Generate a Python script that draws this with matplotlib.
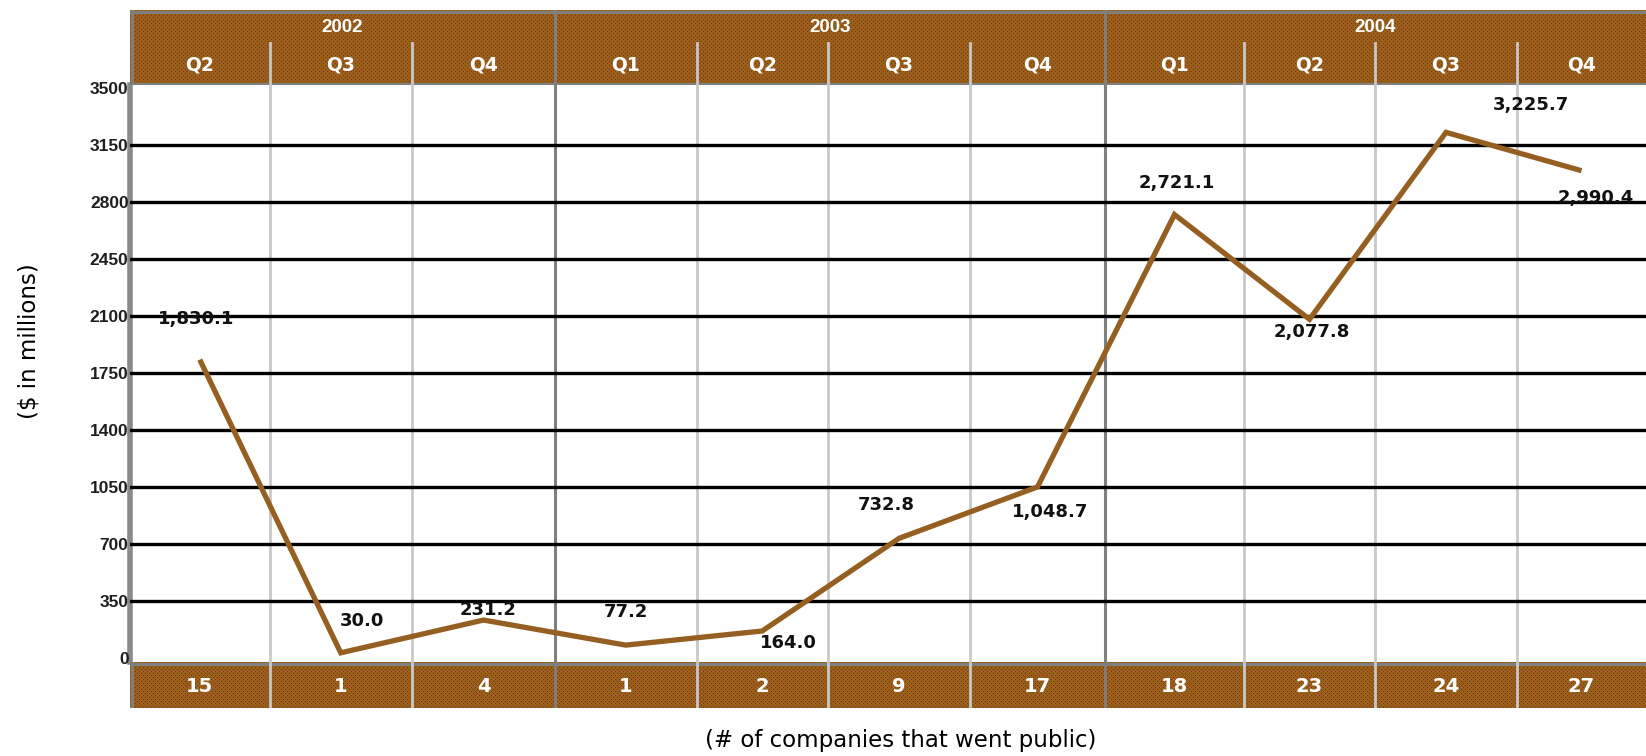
import numpy as np
import matplotlib
matplotlib.use("Agg")
import matplotlib.pyplot as plt

# ---- data -------------------------------------------------------------
quarters = ["Q2", "Q3", "Q4", "Q1", "Q2", "Q3", "Q4", "Q1", "Q2", "Q3", "Q4"]
years = ["2002"] * 3 + ["2003"] * 4 + ["2004"] * 4
proceeds = [1830.1, 30.0, 231.2, 77.2, 164.0, 732.8, 1048.7, 2721.1, 2077.8, 3225.7, 2990.4]
ipo_counts = [15, 1, 4, 1, 2, 9, 17, 18, 23, 24, 27]
y_ticks = [0, 350, 700, 1050, 1400, 1750, 2100, 2450, 2800, 3150, 3500]

# ---- layout (pixels) --------------------------------------------------
W, H = 1646, 756
col_edges = [130, 269.5, 412, 555, 696.5, 828, 970, 1105, 1244, 1375, 1517, 1646]
# (dx, dy) pixel offsets of each value label from its point (dy downward)
label_offsets = [(-4, -41), (21, -32), (5, -10), (0, -33), (26, 12), (-13, -33),
                 (13, 25), (2, -32), (2, 13), (85, -27), (14, 27)]

LINE_BROWN = "#965f22"
DARK_SEP = "#7f7f7f"
LIGHT_SEP = "#c8c8c8"
NUM_FONT = dict(family="DejaVu Sans", weight="bold")
SMALL_FONT = dict(family="Liberation Sans", weight="bold")


def rect(x0, y0, x1, y1):
    return [x0 / W, 1 - y1 / H, (x1 - x0) / W, (y1 - y0) / H]


def band_texture(h, w):
    i, j = np.mgrid[0:h, 0:w]
    img = np.empty((h, w, 3))
    checker = (i + j) % 2 == 0
    img[checker] = (0.60, 0.38, 0.00)
    img[~checker] = (0.58, 0.38, 0.20)
    red = ((i % 4 == 1) & (j % 4 == 1)) | ((i % 4 == 3) & (j % 4 == 3))
    orange = (i % 8 == 1) & (j % 8 == 3)
    img[red] = (0.58, 0.18, 0.00)
    img[orange] = (0.80, 0.40, 0.20)
    return img


centers = [(a + b) / 2 for a, b in zip(col_edges[:-1], col_edges[1:])]
year_breaks = [k for k in range(1, len(years)) if years[k] != years[k - 1]]

fig = plt.figure(figsize=(W / 100, H / 100), dpi=100)
fig.patch.set_facecolor("white")

# ---- main plotting area ----------------------------------------------
ax = fig.add_axes(rect(130, 85, 1646, 662))
ax.set_xlim(col_edges[0], col_edges[-1])
ax.set_ylim(-26.4, 3516.6)
for s in ax.spines.values():
    s.set_visible(False)
ax.set_xticks([])
ax.set_yticks(y_ticks, labels=[str(t) for t in y_ticks])
ax.tick_params(axis="y", length=0, pad=1, labelsize=12.5, labelcolor="#1e1e1e")
for lab in ax.get_yticklabels():
    lab.set_fontfamily("Liberation Sans")
    lab.set_fontweight("bold")

for k in range(1, len(col_edges) - 1):
    if k in year_breaks:
        ax.axvline(col_edges[k], color=DARK_SEP, lw=2.2, zorder=1)
    else:
        ax.axvline(col_edges[k], color=LIGHT_SEP, lw=2.0, zorder=1)
ax.axvline(col_edges[0], color="#8a8a8a", lw=4.0, zorder=1, clip_on=False)
for t in y_ticks[1:-1]:
    ax.axhline(t, color="black", lw=2.4, zorder=2)

ax.plot(centers, proceeds, color=LINE_BROWN, lw=3.8, zorder=3,
        solid_joinstyle="miter", solid_capstyle="butt")

for x, v, (dx, dy) in zip(centers, proceeds, label_offsets):
    ax.annotate(f"{v:,.1f}", (x, v), xytext=(dx, -dy), textcoords="offset pixels",
                ha="center", va="center", fontsize=13, color="#111111",
                zorder=4, **NUM_FONT)

# ---- header band (years and quarters) --------------------------------
hx = fig.add_axes(rect(130, 10, 1646, 85))
hx.set_xlim(col_edges[0], col_edges[-1])
hx.set_ylim(75, 0)
hx.axis("off")
hx.imshow(band_texture(75, 1516), extent=(col_edges[0], col_edges[-1], 75, 0),
          aspect="auto", interpolation="nearest", zorder=0)
hx.axhline(1.5, color=DARK_SEP, lw=2.2, zorder=2)
hx.axhline(73.5, color=DARK_SEP, lw=2.2, zorder=2)
hx.axvline(col_edges[0] + 1.5, color=DARK_SEP, lw=2.2, zorder=2)
for k in range(1, len(col_edges) - 1):
    if k in year_breaks:
        hx.plot([col_edges[k]] * 2, [0, 75], color=DARK_SEP, lw=2.2, zorder=2)
    else:
        hx.plot([col_edges[k]] * 2, [33, 75], color=LIGHT_SEP, lw=2.0, zorder=2)

starts = [0] + year_breaks
ends = year_breaks + [len(years)]
for s, e in zip(starts, ends):
    xm = (col_edges[s] + col_edges[e]) / 2
    hx.text(xm, 18, years[s], ha="center", va="center", color="white",
            fontsize=13.5, zorder=3, **SMALL_FONT)
for x, q in zip(centers, quarters):
    hx.text(x, 55, q, ha="center", va="center", color="white",
            fontsize=13.5, zorder=3, **NUM_FONT)

# ---- bottom band (number of IPOs) ------------------------------------
bx = fig.add_axes(rect(130, 662, 1646, 708))
bx.set_xlim(col_edges[0], col_edges[-1])
bx.set_ylim(46, 0)
bx.axis("off")
bx.imshow(band_texture(46, 1516), extent=(col_edges[0], col_edges[-1], 46, 0),
          aspect="auto", interpolation="nearest", zorder=0)
bx.axhline(1.5, color=DARK_SEP, lw=2.2, zorder=2)
bx.axvline(col_edges[0] + 1.5, color=DARK_SEP, lw=2.2, zorder=2)
for k in range(1, len(col_edges) - 1):
    c = DARK_SEP if k in year_breaks else LIGHT_SEP
    bx.plot([col_edges[k]] * 2, [0, 46], color=c, lw=2.0, zorder=2)
for x, n in zip(centers, ipo_counts):
    bx.text(x, 24, str(n), ha="center", va="center", color="white",
            fontsize=14, zorder=3, **NUM_FONT)

# ---- axis titles ------------------------------------------------------
fig.text(29 / W, 1 - 341 / H, "($ in millions)", rotation=90, ha="center",
         va="center", fontsize=16.5, family="DejaVu Sans")
fig.text(901 / W, 1 - 741 / H, "(# of companies that went public)", ha="center",
         va="center", fontsize=16.5, family="DejaVu Sans")

fig.savefig("out.png", dpi=100, facecolor="white")
